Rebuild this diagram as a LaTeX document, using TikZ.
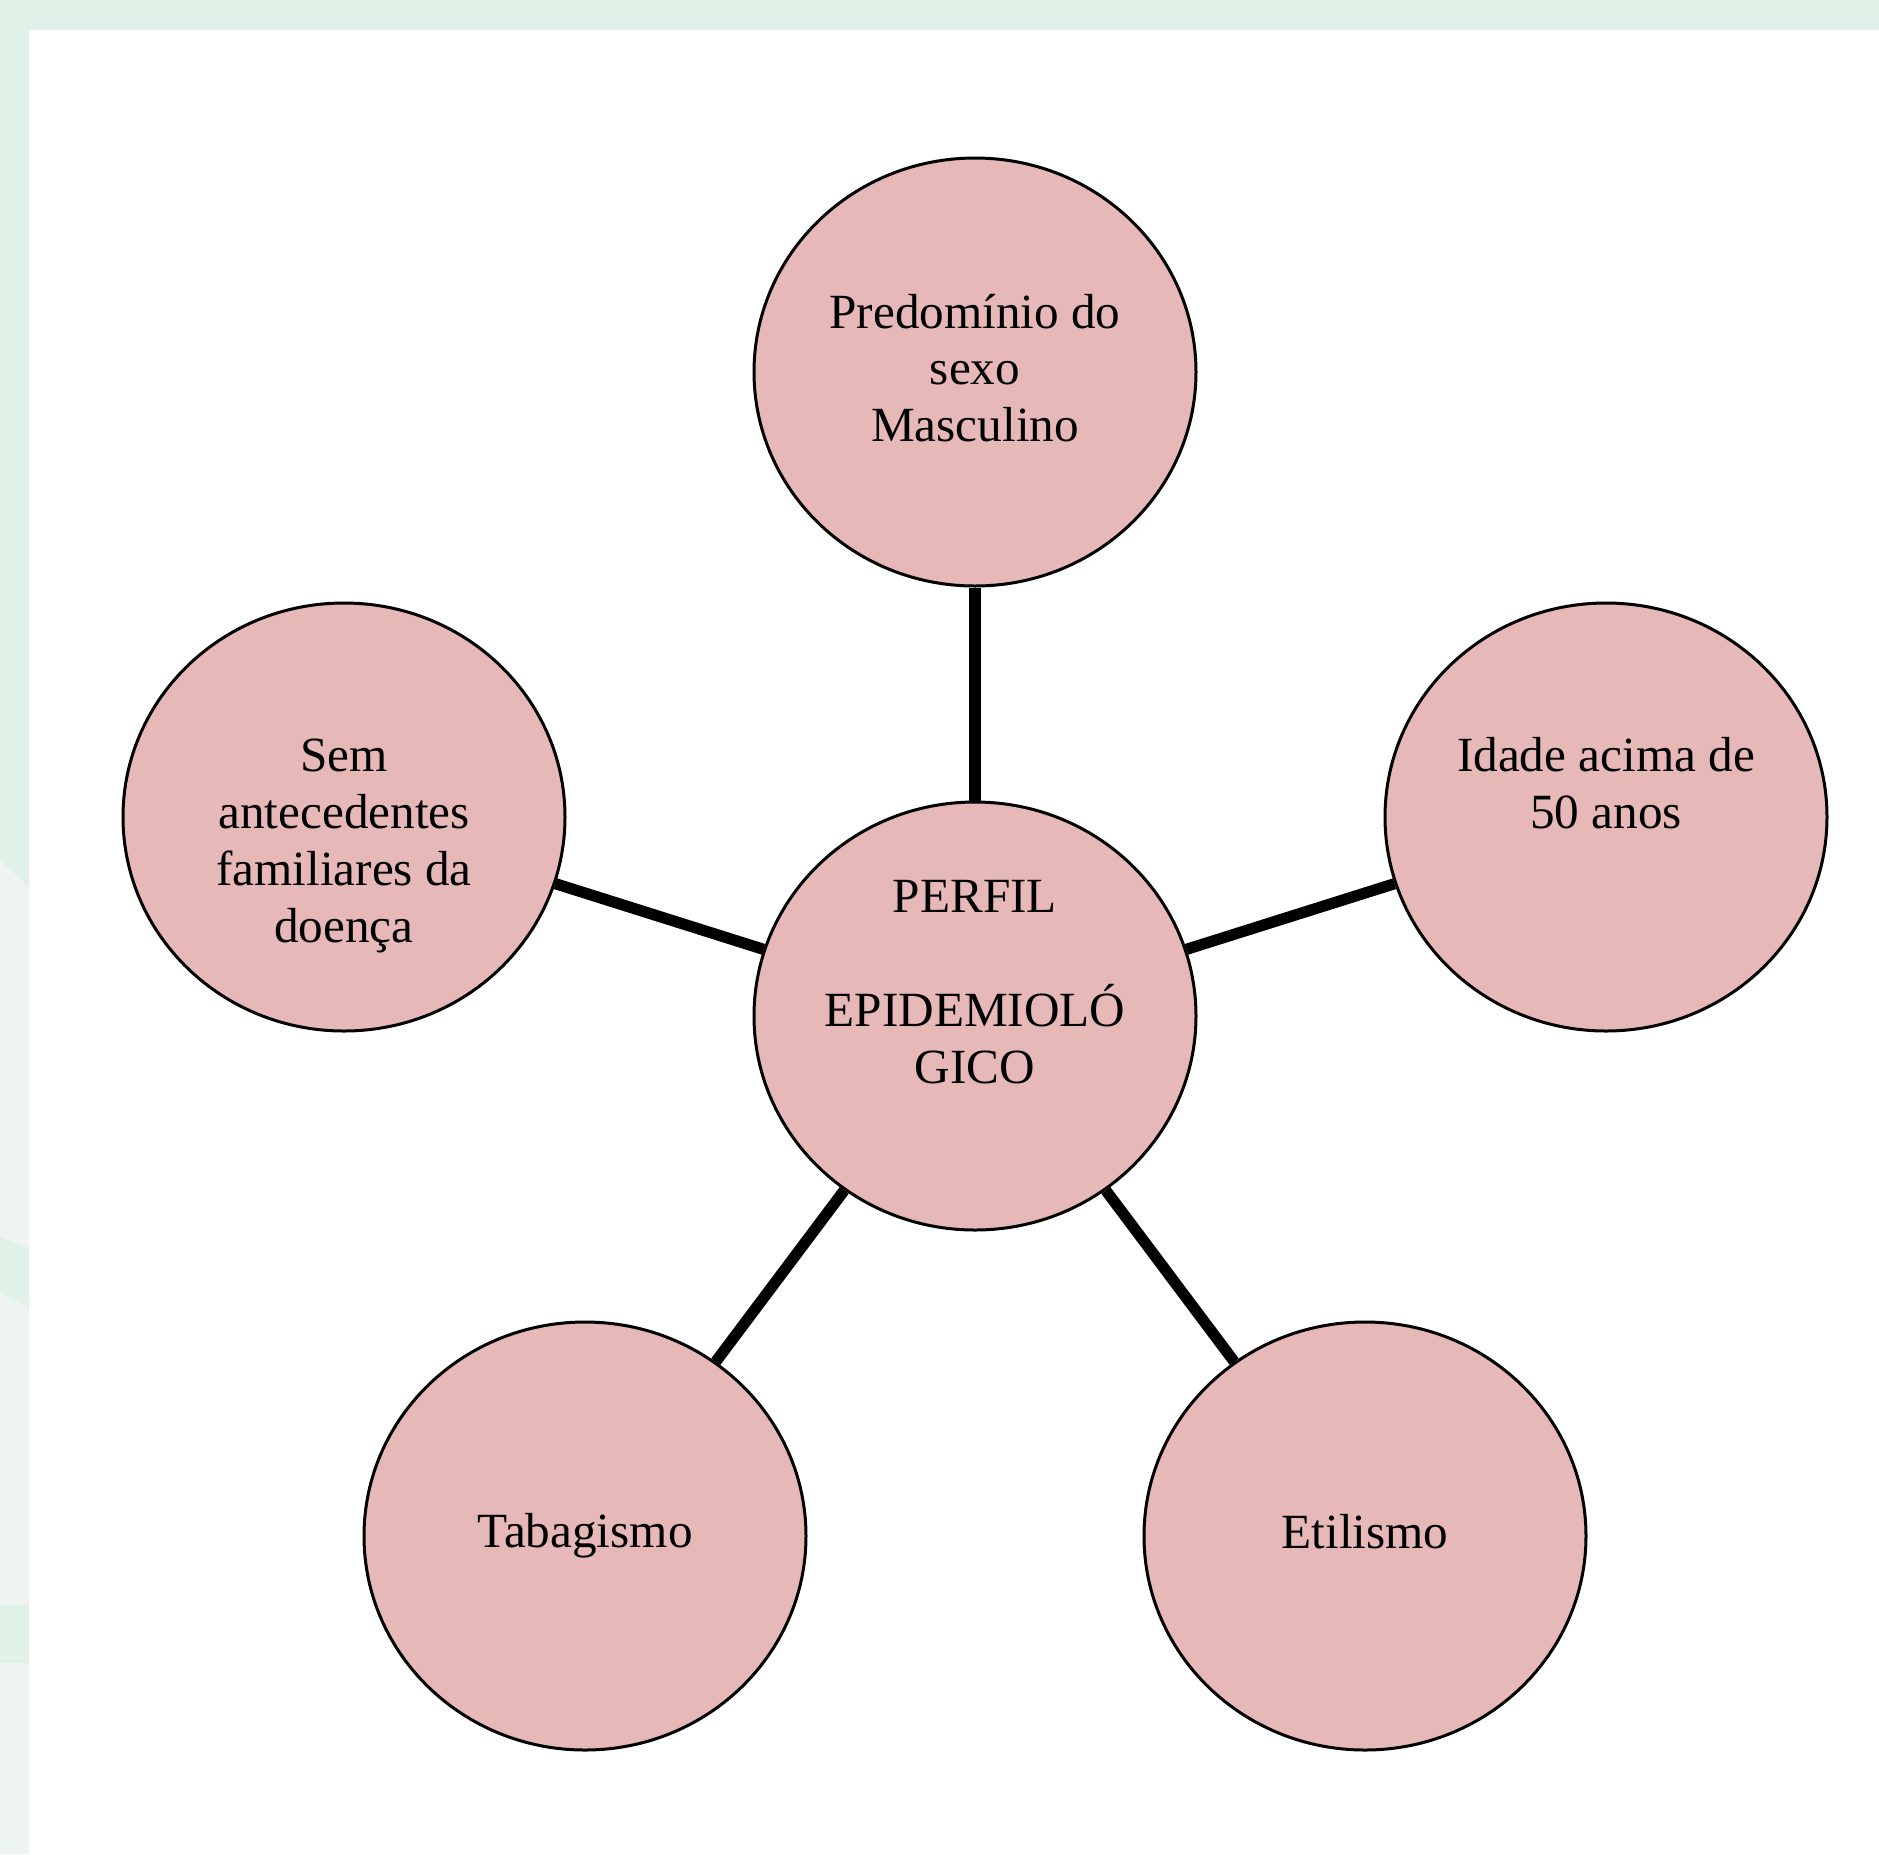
\documentclass[tikz,border=0pt]{standalone}
\usepackage{fontspec}
\setmainfont{Liberation Serif}
\usepackage{tikz}
\usetikzlibrary{shapes.geometric}

\definecolor{bandgreen}{HTML}{E0F1E7}
\definecolor{palegreen}{HTML}{EEF5F1}
\definecolor{bubblepink}{HTML}{E6B8B8}

\tikzset{
  bubble/.style={ellipse,draw=black,line width=1.5pt,fill=bubblepink,
                 minimum width=221pt,minimum height=214pt,inner sep=0pt},
  caption/.style={align=center,inner sep=0pt,
                  font=\fontsize{24.6}{28.4}\selectfont},
  spoke/.style={line width=5.6pt,black},
}

\begin{document}
\begin{tikzpicture}[x=0.5pt,y=-0.5pt]
%
  \useasboundingbox (0,0) rectangle (1879,1854);
%
  % page background
  \fill [white] (0,0) rectangle (1879,1854);
  \fill [palegreen] (0,30) rectangle (29,1854);
  \fill [bandgreen] (0,0) rectangle (1879,30);
  \fill [bandgreen] (0,30) -- (29,30) -- (29,887) -- (0,860) -- cycle;
  \fill [bandgreen] (0,1237) -- (29,1248) -- (29,1307) -- (0,1293) -- cycle;
  \fill [bandgreen] (0,1605) rectangle (29,1663);
%
  \node (perfil)  [bubble] at (975,1016) {};
  \node (sexo)    [bubble] at (975,372)  {};
  \node (idade)   [bubble] at (1606,817) {};
  \node (etil)    [bubble] at (1365,1536) {};
  \node (tabaco)  [bubble] at (585,1536) {};
  \node (famil)   [bubble] at (344,817)  {};
%
  \node (perfil-t) [caption] at (975,982)  {PERFIL\\ \\EPIDEMIOLÓ\\GICO};
  \node (sexo-t)   [caption] at (975,368)  {Predomínio do\\sexo\\Masculino};
  \node (idade-t)  [caption] at (1606,783) {Idade acima de\\50 anos};
  \node (etil-t)   [caption] at (1365,1532) {Etilismo};
  \node (tabaco-t) [caption] at (585,1536) {Tabagismo};
  \node (famil-t)  [caption] at (344,846)  {Sem\\antecedentes\\familiares da\\doença};
%
  \draw [spoke] (perfil) -- (sexo) ;
  \draw [spoke] (perfil) -- (idade) ;
  \draw [spoke] (perfil) -- (etil) ;
  \draw [spoke] (perfil) -- (tabaco) ;
  \draw [spoke] (perfil) -- (famil) ;
%
\end{tikzpicture}
\end{document}
